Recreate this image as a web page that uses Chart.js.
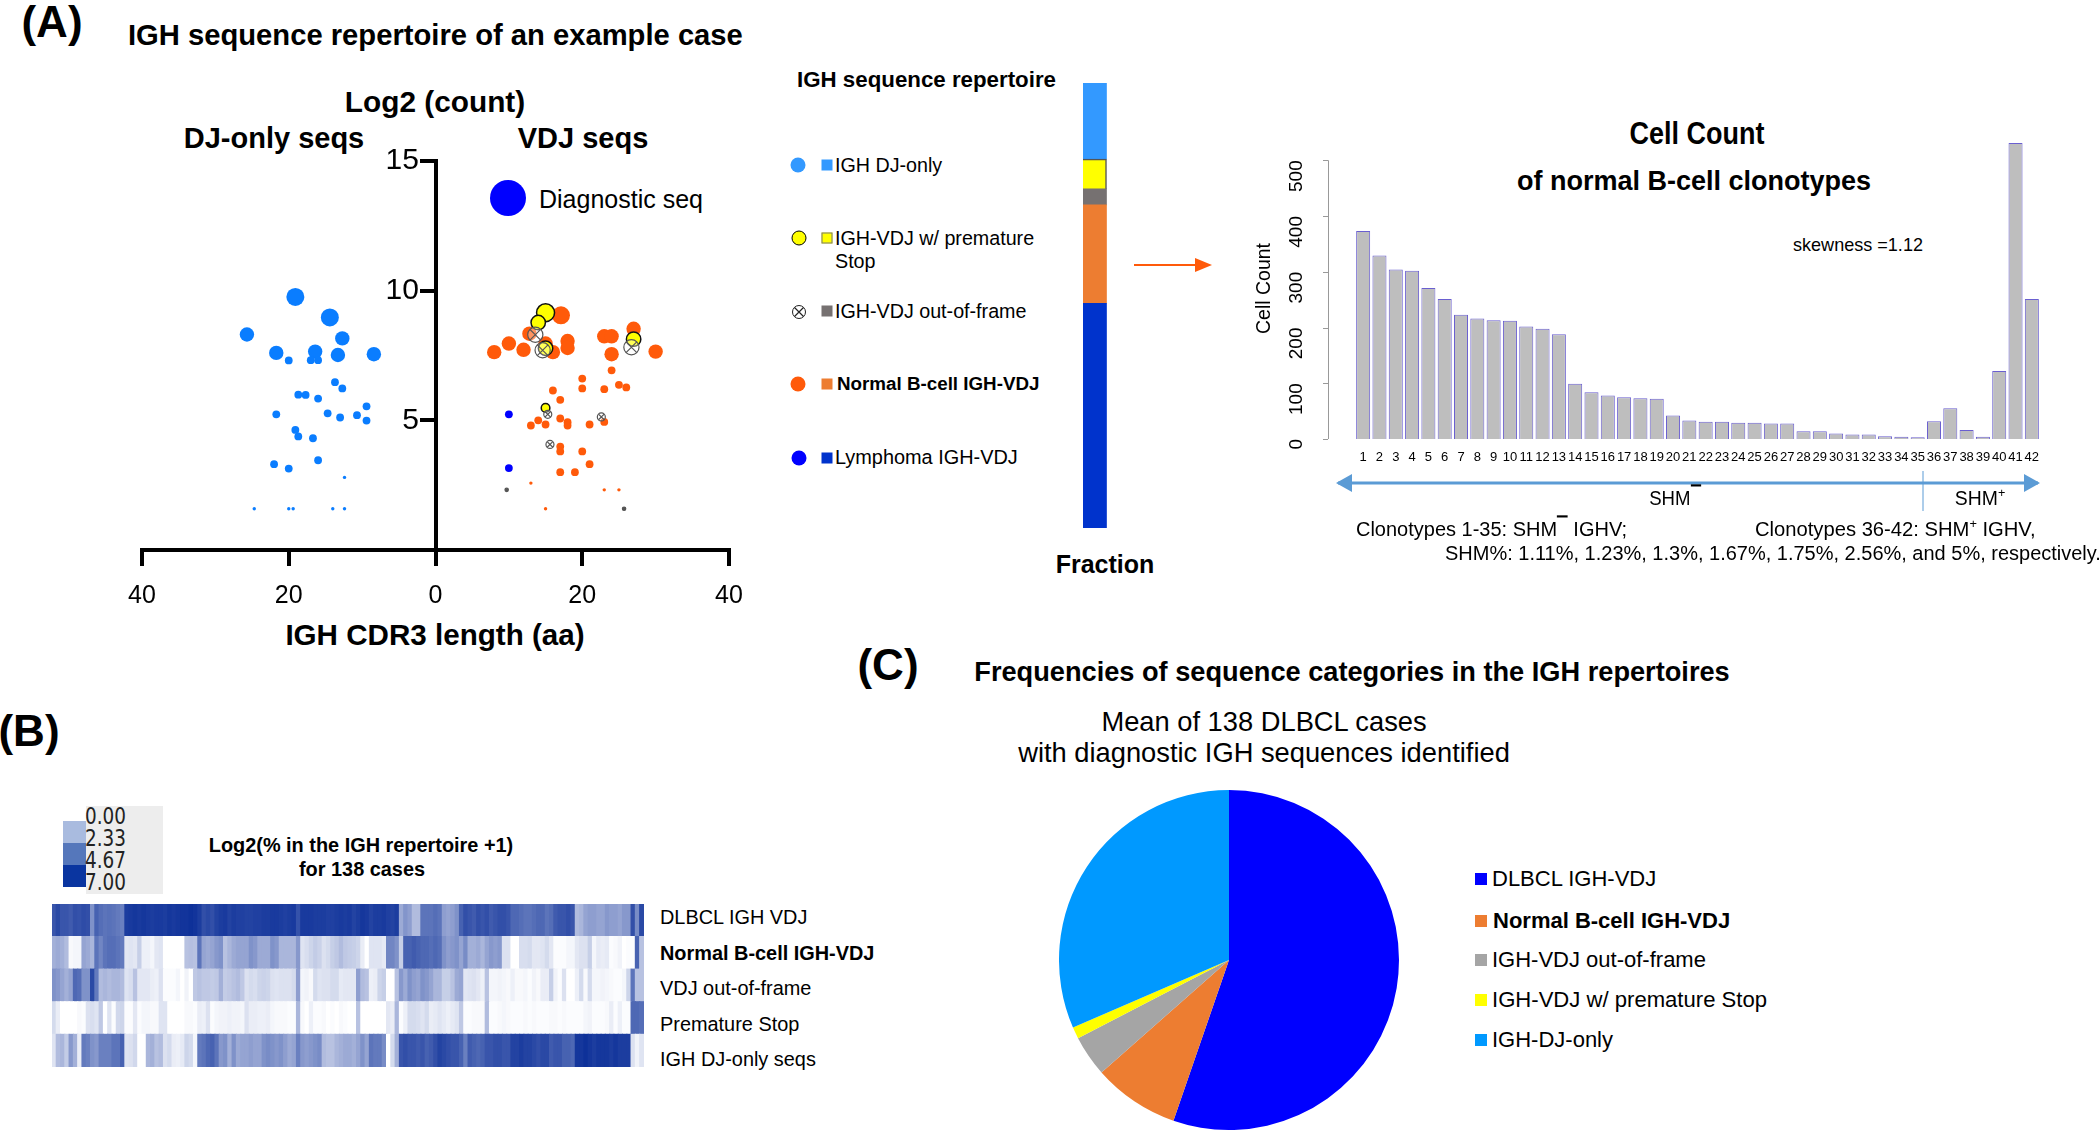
<!DOCTYPE html>
<html>
<head>
<meta charset="utf-8">
<script src="https://cdn.jsdelivr.net/npm/chart.js@4"></script>
<style>
    body { margin:0; background:#fff; }
    #page { position:relative; width:2100px; height:1130px; overflow:hidden; font-family:"Liberation Sans",Arial,sans-serif; color:#000; }
    canvas { position:absolute; }
    .t { position:absolute; white-space:nowrap; line-height:1; }
    .c { transform:translate(-50%,-50%); }
    .m { transform:translateY(-50%); }
    .b { font-weight:bold; }
    .k { font-family:'DejaVu Sans'; font-size:20px; color:#222; transform:translateY(-50%) scale(.92,1.12); transform-origin:left; }
    .dot { position:absolute; border-radius:50%; transform:translate(-50%,-50%); box-sizing:border-box; }
    .sq { position:absolute; transform:translate(-50%,-50%); box-sizing:border-box; }
</style>
</head>
<body>
<div id="page">
    <!-- panel A -->
    <div class="t b c" style="left:52px;top:22px;font-size:44px">(A)</div>
    <div class="t b m" style="left:128px;top:36px;font-size:29.2px">IGH sequence repertoire of an example case</div>
    <div class="t b c" style="left:435px;top:102px;font-size:29.8px">Log2 (count)</div>
    <div class="t b c" style="left:274px;top:138px;font-size:29px">DJ-only seqs</div>
    <div class="t b c" style="left:583px;top:138px;font-size:29px">VDJ seqs</div>
    <div class="dot" style="left:508px;top:198px;width:36px;height:36px;background:#0000ff"></div>
    <div class="t m" style="left:539px;top:199px;font-size:25px">Diagnostic seq</div>
    <div class="t b c" style="left:435px;top:635px;font-size:29.6px">IGH CDR3 length (aa)</div>
    <canvas id="scatter" width="670" height="480" style="left:100px;top:140px"></canvas>

    <div class="t b m" style="left:797px;top:80px;font-size:22.3px">IGH sequence repertoire</div>
    <div class="dot" style="left:798px;top:165px;width:15px;height:15px;background:#3399ff"></div>
    <div class="sq" style="left:827px;top:165px;width:11px;height:11px;background:#3399ff"></div>
    <div class="t m" style="left:835px;top:166px;font-size:19.7px">IGH DJ-only</div>
    <div class="dot" style="left:799px;top:238px;width:15px;height:15px;background:#ffff00;border:1.5px solid #000"></div>
    <div class="sq" style="left:827px;top:238px;width:11px;height:11px;background:#ffff00;border:1px solid #777"></div>
    <div class="t m" style="left:835px;top:239px;font-size:19.7px">IGH-VDJ w/ premature</div>
    <div class="t m" style="left:835px;top:262px;font-size:19.7px">Stop</div>
    <div class="dot" style="left:799px;top:312px;width:14px;height:14px;border:1.3px solid #222"></div>
    <svg style="position:absolute;left:792px;top:305px" width="14" height="14"><path d="M2.5 2.5L11.5 11.5M11.5 2.5L2.5 11.5" stroke="#222" stroke-width="1.2"/></svg>
    <div class="sq" style="left:827px;top:311px;width:11px;height:11px;background:#767171"></div>
    <div class="t m" style="left:835px;top:312px;font-size:19.7px">IGH-VDJ out-of-frame</div>
    <div class="dot" style="left:798px;top:384px;width:15px;height:15px;background:#ff5a0a"></div>
    <div class="sq" style="left:827px;top:384px;width:11px;height:11px;background:#ed7d31"></div>
    <div class="t b m" style="left:837px;top:384px;font-size:18.8px">Normal B-cell IGH-VDJ</div>
    <div class="dot" style="left:799px;top:458px;width:15px;height:15px;background:#0000ff"></div>
    <div class="sq" style="left:827px;top:458px;width:11px;height:11px;background:#0033cc"></div>
    <div class="t m" style="left:835px;top:458px;font-size:19.9px">Lymphoma IGH-VDJ</div>

    <canvas id="fraction" width="47" height="445" style="left:1083px;top:83px"></canvas>
    <svg style="position:absolute;left:1130px;top:250px" width="90" height="30"><path d="M4 15H66" stroke="#ff5a0a" stroke-width="2"/><path d="M65 8L82 15L65 22Z" fill="#ff5a0a"/></svg>
    <div class="t b c" style="left:1105px;top:564px;font-size:25px">Fraction</div>

    <div class="t b" style="left:1697px;top:133px;font-size:31px;transform:translate(-50%,-50%) scaleX(.87)">Cell Count</div>
    <div class="t b c" style="left:1694px;top:181px;font-size:27px">of normal B-cell clonotypes</div>
    <div class="t" style="left:1858px;top:244px;font-size:19px;transform:translate(-50%,-50%) scaleX(.95)">skewness =1.12</div>
    <canvas id="bars" width="800" height="345" style="left:1250px;top:130px"></canvas>
    <svg style="position:absolute;left:1330px;top:465px" width="720" height="50">
        <path d="M8 18H708" stroke="#5b9bd5" stroke-width="3"/>
        <path d="M6 18L22 9V27ZM710 18L694 9V27Z" fill="#5b9bd5"/>
        <path d="M593 6V46" stroke="#5b9bd5" stroke-width="1"/>
    </svg>
    <div class="t" style="left:1675px;top:498px;font-size:20px;transform:translate(-50%,-50%) scaleX(.93)">SHM<sup style="font-size:14px;line-height:0">▔</sup></div>
    <div class="t" style="left:1980px;top:498px;font-size:20px;transform:translate(-50%,-50%) scaleX(.97)">SHM<sup style="font-size:13px;line-height:0">+</sup></div>
    <div class="t" style="left:1356px;top:529px;font-size:20.5px;transform:translateY(-50%) scaleX(.975);transform-origin:left">Clonotypes 1-35: SHM<sup style="font-size:14px;line-height:0">▔</sup> IGHV;</div>
    <div class="t" style="left:1755px;top:529px;font-size:20.5px;transform:translateY(-50%) scaleX(.985);transform-origin:left">Clonotypes 36-42: SHM<sup style="font-size:13px;line-height:0">+</sup> IGHV,</div>
    <div class="t" style="left:1445px;top:553px;font-size:20.5px;transform:translateY(-50%) scaleX(.975);transform-origin:left">SHM%: 1.11%, 1.23%, 1.3%, 1.67%, 1.75%, 2.56%, and 5%, respectively.</div>

    <!-- panel B -->
    <div class="t b c" style="left:29px;top:731px;font-size:44px">(B)</div>
    <div style="position:absolute;left:86px;top:806px;width:77px;height:88px;background:#ededed"></div>
    <div style="position:absolute;left:63px;top:821px;width:23px;height:22px;background:#a9bbdf"></div>
    <div style="position:absolute;left:63px;top:843px;width:23px;height:22px;background:#5577bb"></div>
    <div style="position:absolute;left:63px;top:865px;width:23px;height:22px;background:#0a35a0"></div>
    <div class="t k" style="left:85px;top:816px">0.00</div>
    <div class="t k" style="left:85px;top:838px">2.33</div>
    <div class="t k" style="left:85px;top:860px">4.67</div>
    <div class="t k" style="left:85px;top:882px">7.00</div>
    <div class="t b c" style="left:361px;top:846px;font-size:19.9px">Log2(% in the IGH repertoire +1)</div>
    <div class="t b c" style="left:362px;top:870px;font-size:19.9px">for 138 cases</div>
    <canvas id="heat" width="592" height="163" style="left:52px;top:904px"></canvas>
    <div class="t m" style="left:660px;top:918px;font-size:19.9px">DLBCL IGH VDJ</div>
    <div class="t b m" style="left:660px;top:954px;font-size:19.9px">Normal B-cell IGH-VDJ</div>
    <div class="t m" style="left:660px;top:989px;font-size:19.9px">VDJ out-of-frame</div>
    <div class="t m" style="left:660px;top:1025px;font-size:19.9px">Premature Stop</div>
    <div class="t m" style="left:660px;top:1060px;font-size:19.9px">IGH DJ-only seqs</div>

    <!-- panel C -->
    <div class="t b c" style="left:888px;top:665px;font-size:44px">(C)</div>
    <div class="t b c" style="left:1352px;top:672px;font-size:27.2px">Frequencies of sequence categories in the IGH repertoires</div>
    <div class="t c" style="left:1264px;top:722px;font-size:27.3px">Mean of 138 DLBCL cases</div>
    <div class="t c" style="left:1264px;top:753px;font-size:27.3px">with diagnostic IGH sequences identified</div>
    <canvas id="pie" width="340" height="340" style="left:1059px;top:790px"></canvas>
    <div class="sq" style="left:1481px;top:879px;width:12px;height:12px;background:#0000ff"></div>
    <div class="t m" style="left:1492px;top:879px;font-size:22px">DLBCL IGH-VDJ</div>
    <div class="sq" style="left:1481px;top:921px;width:12px;height:12px;background:#ed7d31"></div>
    <div class="t b m" style="left:1493px;top:921px;font-size:22px">Normal B-cell IGH-VDJ</div>
    <div class="sq" style="left:1481px;top:960px;width:12px;height:12px;background:#a5a5a5"></div>
    <div class="t m" style="left:1492px;top:960px;font-size:22px">IGH-VDJ out-of-frame</div>
    <div class="sq" style="left:1481px;top:1000px;width:12px;height:12px;background:#ffff00"></div>
    <div class="t m" style="left:1492px;top:1000px;font-size:22.1px">IGH-VDJ w/ premature Stop</div>
    <div class="sq" style="left:1481px;top:1040px;width:12px;height:12px;background:#0099ff"></div>
    <div class="t m" style="left:1492px;top:1040px;font-size:22px">IGH-DJ-only</div>
</div>

<script>
// panel A, CDR3 length (DJ-only drawn to the left) and log2 count
const djLength = [-19.1,-14.4,-25.7,-12.7,-21.7,-16.4,-13.3,-8.4,-20,-17,-16,-13.7,-12.7,-18.7,-17.7,-16,-9.4,-21.7,-14.7,-13,-10.7,-9.4,-19.1,-18.7,-16.7,-16,-22,-20,-12.4,-24.7,-20,-19.4,-14,-12.4]
const djCount = [9.76,8.97,8.31,8.16,7.6,7.65,7.52,7.55,7.31,7.32,7.32,6.47,6.23,5.99,5.98,5.84,5.54,5.23,5.27,5.11,5.2,4.99,4.63,4.38,4.31,3.46,3.31,3.14,2.8,1.59,1.59,1.59,1.59,1.59]
const normalLength = [17.1,27,12.8,23,24,10,18,18,15,12,8,16,24,30,24,20,20,23,25,26,16,17,17,14,13,15,18,18,21,23,17,17,20,21,17,19,13,23,25,15]
const normalCount = [9.05,8.53,8.34,8.24,8.24,7.96,8.06,7.79,7.96,7.72,7.63,7.63,7.55,7.65,6.93,6.61,6.23,6.2,6.37,6.27,6.15,5.79,5.07,5,4.8,4.84,4.93,4.8,4.84,4.94,3.99,3.8,3.8,3.31,3,3,2.58,2.32,2.32,1.59]
const lymphomaLength = [10,10]
const lymphomaCount = [5.23,3.16]
const stopLength = [15,14,27,15,15]
const stopCount = [9.15,8.77,8.13,7.78,5.48]
const outFrameLength = [13.6,14.6,26.7,15.3,22.6,15.6,9.7,25.7]
const outFrameCount = [8.3,7.7,7.82,5.23,5.13,4.07,2.32,1.59]

// fraction column, bottom to top
const fracLymphoma = [50.5]
const fracNormal = [22.1]
const fracOutFrame = [3.6]
const fracStop = [6.7]
const fracDJ = [17]

// cell count of normal B-cell clonotypes
const clonotypes = ['1','2','3','4','5','6','7','8','9','10','11','12','13','14','15','16','17','18','19','20','21','22','23','24','25','26','27','28','29','30','31','32','33','34','35','36','37','38','39','40','41','42']
const cellCounts = [373,329,304,302,271,251,223,216,213,212,202,198,188,99,84,78,75,73,72,42,33,31,31,29,29,28,28,14,14,10,8,8,5,4,3,32,55,16,4,122,531,251]

// heat map, 138 cases, log2(% + 1)
const heatDLBCL = [5.6,6.0,5.6,5.6,5.4,5.8,5.7,5.9,5.8,3.6,
    5.2,4.8,4.6,4.7,4.6,4.4,4.2,6.4,6.5,6.6,
    6.5,6.6,6.5,6.4,6.5,6.5,6.4,6.6,6.5,6.6,
    6.7,6.7,6.8,6.7,6.4,5.8,6.0,5.8,6.2,6.4,
    6.5,6.2,6.4,6.3,6.3,6.2,6.2,6.3,6.3,6.4,
    6.4,6.5,6.5,6.4,6.3,6.4,6.5,5.7,6.5,6.5,
    6.5,6.4,6.4,6.4,6.3,6.3,6.4,6.5,6.4,6.5,
    6.2,6.4,6.6,6.5,6.2,6.4,6.4,6.5,6.3,6.2,
    6.4,2.8,3.5,3.2,2.2,2.2,4.6,4.6,4.6,4.8,
    4.6,3.2,3.0,3.2,3.6,5.2,5.8,5.6,5.4,5.8,
    5.6,5.8,5.4,5.6,5.8,5.8,5.6,5.0,5.0,4.8,
    4.6,4.6,4.8,5,5,4.6,4.8,5.4,5.6,5.6,
    5.8,5.6,2.2,2.4,3,3.2,3.2,3,3,3.4,
    3.2,3.2,3,3.4,3.4,5.8,3.8,6]
const heatNormal = [2.6,2.8,2.6,2.2,0.2,0.3,0.3,3,2.8,2.4,
    4.6,4,4.6,4.8,4.8,4.6,4.4,0.8,0.9,0.8,
    1.6,0.5,0.5,0.3,0.8,0.9,0,0,0,0,
    0,2,2.1,2,4.6,3,2.8,3,3.4,3.6,
    2,2.4,2.8,3,3,3,3.6,3.4,2.8,2.8,
    2.8,3.6,3.4,2.4,2.4,2.4,2.4,3.4,0.9,1.1,
    1.4,1.7,1.5,1,1.2,1.6,1.8,2.2,1.8,1.7,
    1.6,1.4,0.6,0,0.9,0.9,0.9,0.7,4,4,
    3.6,1.6,5.2,5.2,5.4,5.2,5,5,4.8,5,
    4.8,3.6,3.2,3.4,3.6,3,3.8,2.6,2.6,2.8,
    2.4,3,3.4,3.2,3.4,1,1,0,0,1.1,
    1.1,1.2,0.8,0.8,0.9,1.2,0.8,0.1,0.1,0.1,
    0.3,0.3,0.8,1,1,1.6,0.3,0.7,0.6,0.7,
    0.1,0.2,0.4,0,0.1,0.1,5.2,2]
const heatOutFrame = [3.6,3.4,3,2.6,3.0,5.0,4.8,3.6,3.6,6,
    4.4,2.2,2.4,2.2,2.4,2.4,2.2,0.9,1.1,2,
    0.8,0.8,0.8,0.6,0.5,1,0.1,0.1,0.1,0.3,
    0,0.4,0,1.8,2,1.8,1.8,1.7,1.8,2.6,
    1.7,1.8,2,2.2,1.8,1,1.2,1.1,1.4,1.5,
    1.4,1,0.9,1,1,1,1.2,3.2,0.3,0.4,
    0.2,1.2,0.9,1,1,1.2,1.2,0.7,0.8,0.8,
    0.8,3.2,2.2,2,0.5,0.6,1.4,1.6,0,0,
    2,3.4,2.8,3.6,3.2,3,3.6,3.4,3,2.4,
    2.4,1.6,1.6,2,2.8,3,0.8,0.9,1,0.8,
    0.5,2,0.3,0.3,0.4,0.3,0.2,0.5,0.2,0.2,
    0.3,0.1,0.4,0.2,0.6,0.6,1.6,0.4,0.1,1,
    0,0,0.5,1.2,0.2,1.2,0.3,0.3,0.4,0.3,
    0.2,0.1,0.1,0.3,1.4,4.6,2,2]
const heatStop = [1.2,0.6,0,0,0,0,0.2,0.1,1,1.1,
    0.9,1.8,0,0.9,0.1,1.3,1.4,0.1,0.1,0.8,
    0.1,0.3,0.3,0.2,0.2,0.9,0.9,0,0,0,
    0,0.2,0.2,0.1,0.6,0.5,1,0.1,0.3,0.4,
    0.4,0.5,0.4,0.4,0.3,1,0.6,0.6,0.5,0.5,
    0.6,0.3,0.2,0.2,0.2,0.1,0.1,2.4,0.2,0,
    0.5,0.1,0.1,0.2,0,0.1,0,0.2,0.1,0,
    0,2,0,0,0,0,0,0,0.8,0.6,
    2.4,0.1,0.5,1.2,1.2,1.1,0.9,1.2,0.6,0.7,
    0.9,0.7,0.5,0.7,0.9,1.8,0.1,0.1,0.2,0.2,
    0.2,2.2,0.1,0.1,0.2,0.3,0.2,0.1,0.1,0.1,
    0.2,0.1,0.2,0.1,0.1,0.1,0.2,0.2,0.1,0.2,
    0.1,0.1,0.1,0.1,0.3,0.4,0.1,0.1,0.1,0.2,
    0.6,0.1,0.5,0.1,0.1,5,5,4.8]
const heatDJ = [0.9,2.2,2.4,1.7,3.4,2.6,0.6,4.4,4.2,3.6,
    3.4,4.2,4.2,4.2,4.6,4.6,5.2,0.9,1,1.3,
    0,0,2.4,2.6,2,2.2,1,1.2,0.6,0.5,
    0.7,1.4,1.2,0.3,4.4,4.6,5,5.2,4.6,3.4,
    3.6,2.6,3.6,2.8,3,3,3.2,3,3,3.6,
    3.8,3.6,3.4,3.6,3.2,2.8,3,4.2,3.4,3.2,
    3.4,3.6,3.8,2.2,2,2,2.4,2.6,2.8,2.8,
    2.6,3,3.6,3,4.6,4.4,4.4,3.8,0,1.2,
    2.6,5.6,5.8,5.6,5.6,5.4,5.6,5.2,5.4,5.8,
    6.2,6,5.8,5.6,5.6,5.2,4.2,5.4,5.2,5,
    5.2,5.6,5.6,5.8,5.8,5.6,5.6,6.2,6.2,6.4,
    6.2,6.2,6,5.8,6,6,5.4,5.6,5.6,5.2,
    5.2,5,6.6,6.6,6.8,6.6,6.4,6.6,6.6,6.6,
    6.4,6.6,6.4,6.4,6.4,1,0.4,0.9]

// pie, mean of 138 cases
const pieLabels = ['DLBCL IGH-VDJ','Normal B-cell IGH-VDJ','IGH-VDJ out-of-frame','IGH-VDJ w/ premature Stop','IGH-DJ-only']
const pieValues = [55.3,8.2,3.9,1.1,31.5]

Chart.defaults.animation = false
Chart.defaults.responsive = false
Chart.defaults.devicePixelRatio = 1
Chart.defaults.font.family = '"Liberation Sans", Arial, sans-serif'
Chart.defaults.plugins.legend.display = false
Chart.defaults.plugins.tooltip.enabled = false

function pares(xs, ys) { return xs.map((x, i) => ({x: x, y: ys[i]})) }

// point size follows the count
function radio(ctx) {
    let y = ctx.raw.y
    if (y >= 8.9) return 9
    if (y >= 7.4) return 7.2
    if (y >= 2.9) return 3.9
    return 1.7
}

new Chart(document.getElementById('scatter'), {
    type: 'scatter',
    data: { datasets: [
        { data: pares(outFrameLength, outFrameCount), pointStyle: 'crossRot', borderColor: '#555', backgroundColor: 'transparent', pointBorderWidth: 1.2, pointRadius: c => c.raw.y < 2.9 ? 1.7 : (c.raw.y < 7.4 ? 4 : 7.6) },
        { data: pares(outFrameLength, outFrameCount), pointStyle: 'circle', borderColor: '#555', backgroundColor: c => c.raw.y < 2.9 ? '#666' : 'rgba(255,255,255,0.35)', pointBorderWidth: 1.2, pointRadius: c => c.raw.y < 2.9 ? 1.7 : (c.raw.y < 7.4 ? 4 : 7.6) },
        { data: pares(stopLength, stopCount), backgroundColor: '#ffff00', borderColor: '#111', pointBorderWidth: 1.5, pointRadius: c => c.raw.y < 7 ? 4.3 : radio(c) },
        { data: pares(lymphomaLength, lymphomaCount), backgroundColor: '#0000ff', borderWidth: 0, pointBorderWidth: 0, pointRadius: radio },
        { data: pares(normalLength, normalCount), backgroundColor: '#ff5a0a', pointBorderWidth: 0, pointRadius: radio },
        { data: pares(djLength, djCount), backgroundColor: '#0a7dff', pointBorderWidth: 0, pointRadius: radio }
    ]},
    options: {
        layout: { padding: { left: 42, right: 41, top: 19, bottom: 0 } },
        scales: {
            x: {
                type: 'linear', min: -40, max: 40,
                afterFit: s => { s.height = 70 },
                border: { color: '#000', width: 4 },
                grid: { drawOnChartArea: false, color: '#000', lineWidth: 4, tickLength: 16 },
                ticks: { stepSize: 20, color: '#000', padding: 15, maxRotation: 0, font: { size: 25 }, callback: v => Math.abs(v) }
            },
            y: {
                type: 'linear', min: 0, max: 15, position: { x: 0 },
                border: { color: '#000', width: 4 },
                grid: { drawOnChartArea: false, color: '#000', lineWidth: 4, tickLength: 14 },
                // labels sit right on the axis when it is placed at x 0, the spaces push them off
                ticks: { stepSize: 5, color: '#000', font: { size: 30 }, callback: v => v === 0 ? '' : v + '\u00a0\u00a0' }
            }
        }
    }
})

new Chart(document.getElementById('fraction'), {
    type: 'bar',
    data: { labels: ['Fraction'], datasets: [
        { data: fracLymphoma, backgroundColor: '#0033cc' },
        { data: fracNormal, backgroundColor: '#ed7d31' },
        { data: fracOutFrame, backgroundColor: '#767171' },
        { data: fracStop, backgroundColor: '#ffff00', borderColor: '#555', borderWidth: 1.5 },
        { data: fracDJ, backgroundColor: '#3399ff' }
    ]},
    options: {
        scales: {
            x: { stacked: true, display: false, offset: false },
            y: { stacked: true, display: false, min: 0, max: 100 }
        },
        datasets: { bar: { barPercentage: 1, categoryPercentage: 1 } }
    }
})

// axis of the cell count chart stops at 500 and stands apart from the bars
const ejeCelulas = {
    id: 'ejeCelulas',
    afterDraw(chart) {
        let y = chart.scales.y, ctx = chart.ctx, x0 = chart.chartArea.left - 27
        ctx.save()
        ctx.strokeStyle = '#999'
        ctx.lineWidth = 1
        ctx.beginPath()
        ctx.moveTo(x0 + .5, y.getPixelForValue(0))
        ctx.lineTo(x0 + .5, y.getPixelForValue(500))
        for (let v = 0; v <= 500; v += 100) {
            let py = Math.round(y.getPixelForValue(v)) + .5
            ctx.moveTo(x0 - 5, py)
            ctx.lineTo(x0, py)
        }
        ctx.stroke()
        ctx.restore()
    }
}

new Chart(document.getElementById('bars'), {
    type: 'bar',
    data: { labels: clonotypes, datasets: [
        { data: cellCounts, backgroundColor: '#bebebe', borderColor: '#6a5fd0', borderWidth: 1, barPercentage: 0.86, categoryPercentage: 1 }
    ]},
    options: {
        layout: { padding: { top: 8, right: 10 } },
        scales: {
            x: {
                afterFit: s => { s.height = 36; s.paddingLeft = 0; s.paddingRight = 0 },
                grid: { display: false },
                border: { display: false },
                ticks: { autoSkip: false, maxRotation: 0, color: '#000', padding: 3, font: { size: 13 } }
            },
            y: {
                min: 0, max: 540,
                afterFit: s => { s.width = 105; s.paddingTop = 0; s.paddingBottom = 0 },
                grid: { display: false },
                border: { display: false },
                title: { display: true, text: 'Cell Count', color: '#000', padding: { top: 3, bottom: 0 }, font: { size: 19.5 } },
                ticks: { autoSkip: false, includeBounds: false, stepSize: 100, minRotation: 90, maxRotation: 90, color: '#000', padding: 50, font: { size: 19 } }
            }
        }
    },
    plugins: [ejeCelulas]
})

function colorCalor(v) {
    let f = v / 7
    return `rgb(${Math.round(255 - 248 * f)},${Math.round(255 - 212 * f)},${Math.round(255 - 105 * f)})`
}

// rows stacked bottom to top, each column is one case
let filasCalor = [heatDJ, heatStop, heatOutFrame, heatNormal, heatDLBCL]
new Chart(document.getElementById('heat'), {
    type: 'bar',
    data: {
        labels: heatDLBCL.map((v, i) => i + 1),
        datasets: filasCalor.map(fila => ({
            data: fila.map(() => 1),
            backgroundColor: c => colorCalor(fila[c.dataIndex]),
            borderWidth: 0,
            inflateAmount: 0.6,
            barPercentage: 1,
            categoryPercentage: 1
        }))
    },
    options: {
        scales: {
            x: { stacked: true, display: false },
            y: { stacked: true, display: false, min: 0, max: 5 }
        }
    }
})

new Chart(document.getElementById('pie'), {
    type: 'pie',
    data: { labels: pieLabels, datasets: [
        { data: pieValues, backgroundColor: ['#0000ff','#ed7d31','#a5a5a5','#ffff00','#0099ff'], borderWidth: 0 }
    ]}
})
</script>
</body>
</html>
